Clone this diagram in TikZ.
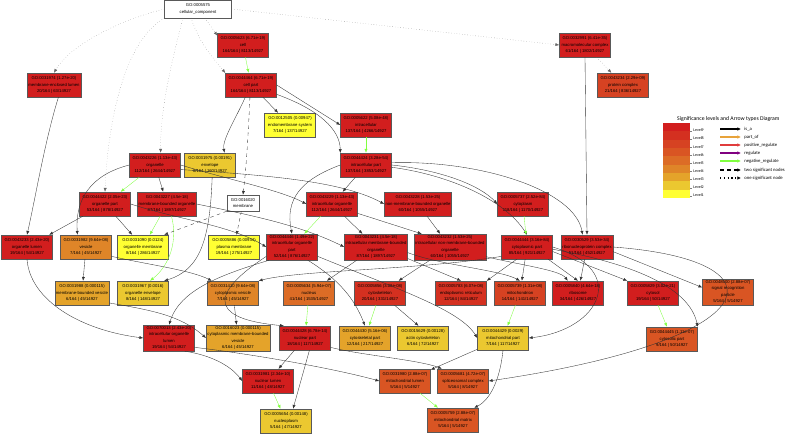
\documentclass[tikz,border=0pt]{standalone}
\usepackage{fontspec}
\setmainfont{Liberation Sans}
\newfontfamily\legfont{Carlito}
\usetikzlibrary{arrows.meta}

\definecolor{lvlnine}{RGB}{210,30,30}
\definecolor{lvleight}{RGB}{212,48,32}
\definecolor{lvlseven}{RGB}{214,66,34}
\definecolor{lvlsix}{RGB}{217,85,35}
\definecolor{lvlfive}{RGB}{220,108,38}
\definecolor{lvlfour}{RGB}{223,133,40}
\definecolor{lvlthree}{RGB}{228,163,42}
\definecolor{lvltwo}{RGB}{235,200,48}
\definecolor{lvlone}{RGB}{255,255,51}
\definecolor{partgreen}{RGB}{128,255,64}
\definecolor{partorange}{RGB}{232,163,58}
\definecolor{posred}{RGB}{224,60,60}
\definecolor{regpurple}{RGB}{128,0,128}

\tikzset{
  goterm/.style={draw=black!65, line width=0.35pt, fill=#1, align=center,
    font=\fontsize{3.6}{5.6}\selectfont, inner sep=1pt,
    minimum width=1.53cm, minimum height=0.72cm},
  isa/.style={-{Latex[length=3.3pt,width=2.6pt]}, draw=black!80, line width=0.3pt},
  partof/.style={isa, draw=partgreen, -{Latex[length=3.3pt,width=2.6pt,color=partgreen]}},
  dsig/.style={isa, dashed},
  osig/.style={isa, draw=black!60, dotted},
  legarrow/.style={line width=1.2pt, -{Latex[length=3.2pt,width=3.2pt]}},
}

\begin{document}
\begin{tikzpicture}[x=0.03cm, y=-0.03cm]
\useasboundingbox (0,0) rectangle (789,434);

% root
\node[goterm=white, minimum width=2.01cm, minimum height=0.54cm] (cc) at (198,9)
  {GO:0005575\\cellular\_component};

% level 1-2
\node[goterm=lvlnine] (mel) at (54,85) {GO:0031974 (1.27e-20)\\membrane-enclosed lumen\\20/164 | 63/14927};
\node[goterm=lvlnine] (cell) at (243,45) {GO:0005623 (6.71e-19)\\cell\\164/164 | 8113/14927};
\node[goterm=lvlnine] (cellpart) at (251,85) {GO:0044464 (6.71e-19)\\cell part\\164/164 | 8113/14927};
\node[goterm=lvlnine] (macro) at (585,45) {GO:0032991 (6.41e-35)\\macromolecular complex\\61/164 | 1802/14927};
\node[goterm=lvlseven] (protcomplex) at (623,85) {GO:0043234 (2.29e-09)\\protein complex\\21/164 | 836/14927};
\node[goterm=lvlone] (endomem) at (290,125) {GO:0012505 (0.00947)\\endomembrane system\\7/164 | 137/14927};
\node[goterm=lvlnine] (intracell) at (366,125) {GO:0005622 (5.08e-48)\\intracellular\\137/164 | 4266/14927};

% organelles
\node[goterm=lvlnine] (organelle) at (155,165) {GO:0043226 (1.13e-43)\\organelle\\112/164 | 2644/14927};
\node[goterm=lvltwo] (envelope) at (210,165) {GO:0031975 (0.00191)\\envelope\\8/164 | 160/14927};
\node[goterm=lvlnine] (intrapart) at (366,165) {GO:0044424 (3.28e-54)\\intracellular part\\137/164 | 3853/14927};
\node[goterm=lvlnine] (orgpart) at (105,204) {GO:0044422 (2.05e-23)\\organelle part\\53/164 | 878/14927};
\node[goterm=lvlnine] (mbo) at (167,204) {GO:0043227 (4.5e-18)\\membrane-bounded organelle\\87/164 | 1897/14927};
\node[goterm=white, minimum width=0.96cm, minimum height=0.48cm] (membrane) at (243,203) {GO:0016020\\membrane};
\node[goterm=lvlnine] (intraorg) at (332,204) {GO:0043229 (1.13e-43)\\intracellular organelle\\112/164 | 2644/14927};
\node[goterm=lvlnine] (nmbo) at (418,204) {GO:0043228 (1.53e-25)\\non-membrane-bounded organelle\\60/164 | 1055/14927};
\node[goterm=lvlnine] (cytoplasm) at (523,204) {GO:0005737 (2.52e-84)\\cytoplasm\\118/164 | 1170/14927};

\node[goterm=lvlnine] (orglumen) at (27,247) {GO:0043233 (2.43e-20)\\organelle lumen\\19/164 | 54/14927};
\node[goterm=lvlfour] (vesicle) at (86,247) {GO:0031982 (9.64e-08)\\vesicle\\7/164 | 45/14927};
\node[goterm=lvlone] (orgmem) at (143,247) {GO:0031090 (0.0124)\\organelle membrane\\8/164 | 286/14927};
\node[goterm=lvlone] (plasmamem) at (234,247) {GO:0005886 (0.00934)\\plasma membrane\\19/164 | 275/14927};
\node[goterm=lvlnine] (intraorgpart) at (292,247) {GO:0044446 (1.49e-22)\\intracellular organelle\\part\\52/164 | 876/14927};
\node[goterm=lvlnine] (intrambo) at (376,247) {GO:0043231 (4.5e-18)\\intracellular membrane-bounded\\organelle\\87/164 | 1897/14927};
\node[goterm=lvlnine] (intranmbo) at (450,247) {GO:0043232 (1.53e-25)\\intracellular non-membrane-bounded\\organelle\\60/164 | 1055/14927};
\node[goterm=lvlnine] (cytopart) at (527,247) {GO:0044444 (3.16e-84)\\cytoplasmic part\\85/164 | 921/14927};
\node[goterm=lvlnine] (ribonuc) at (587,247) {GO:0030529 (3.53e-34)\\ribonucleoprotein complex\\51/164 | 452/14927};

% lower levels
\node[goterm=lvlthree] (mbvesicle) at (82,293) {GO:0031988 (0.000115)\\membrane-bounded vesicle\\6/164 | 45/14927};
\node[goterm=lvltwo] (orgenv) at (143,293) {GO:0031967 (0.0016)\\organelle envelope\\8/164 | 148/14927};
\node[goterm=lvlfour] (cytovesicle) at (233,293) {GO:0031410 (9.64e-08)\\cytoplasmic vesicle\\7/164 | 45/14927};
\node[goterm=lvlfive] (nucleus) at (309,293) {GO:0005634 (5.94e-07)\\nucleus\\41/164 | 1535/14927};
\node[goterm=lvleight] (cytoskel) at (380,293) {GO:0005856 (3.08e-08)\\cytoskeleton\\20/164 | 331/14927};
\node[goterm=lvleight] (er) at (461,293) {GO:0005783 (6.07e-08)\\endoplasmic reticulum\\12/164 | 84/14927};
\node[goterm=lvlseven] (mito) at (520,293) {GO:0005739 (1.31e-08)\\mitochondrion\\14/164 | 141/14927};
\node[goterm=lvlnine] (ribosome) at (578,293) {GO:0005840 (4.64e-18)\\ribosome\\34/164 | 426/14927};
\node[goterm=lvlnine] (cytosol) at (653,293) {GO:0005829 (3.02e-21)\\cytosol\\19/164 | 50/14927};
\node[goterm=lvlsix] (srp) at (728,292) {GO:0048500 (2.88e-07)\\signal recognition\\particle\\5/164 | 5/14927};

\node[goterm=lvlnine] (intraorglumen) at (169,338) {GO:0070013 (2.43e-20)\\intracellular organelle\\lumen\\19/164 | 54/14927};
\node[goterm=lvlthree] (cytombvesicle) at (238,338) {GO:0016023 (0.000115)\\cytoplasmic membrane-bounded\\vesicle\\6/164 | 45/14927};
\node[goterm=lvlnine] (nuclearpart) at (305,338) {GO:0044428 (6.78e-14)\\nuclear part\\18/164 | 117/14927};
\node[goterm=lvlthree] (cytoskelpart) at (365,338) {GO:0044430 (5.16e-06)\\cytoskeletal part\\12/164 | 217/14927};
\node[goterm=lvltwo] (actin) at (423,338) {GO:0015629 (0.00128)\\actin cytoskeleton\\6/164 | 72/14927};
\node[goterm=lvltwo] (mitopart) at (503,338) {GO:0044429 (0.0029)\\mitochondrial part\\7/164 | 117/14927};
\node[goterm=lvlsix] (cytosolpart) at (672,339) {GO:0044445 (1.11e-07)\\cytosolic part\\9/164 | 50/14927};

\node[goterm=lvlnine] (nuclumen) at (268,381) {GO:0031981 (2.34e-10)\\nuclear lumen\\11/164 | 48/14927};
\node[goterm=lvlsix] (mitolumen) at (405,381) {GO:0031980 (2.88e-07)\\mitochondrial lumen\\5/164 | 5/14927};
\node[goterm=lvlsix] (splice) at (463,381) {GO:0005681 (4.72e-07)\\spliceosomal complex\\5/164 | 8/14927};
\node[goterm=lvltwo] (nucleoplasm) at (286,421) {GO:0005654 (0.00148)\\nucleoplasm\\5/164 | 47/14927};
\node[goterm=lvlsix] (mitomatrix) at (453,420) {GO:0005759 (2.88e-07)\\mitochondrial matrix\\5/164 | 5/14927};

% edges from the root
\draw[osig] (cc.west) .. controls (120,20) and (70,45) .. (mel.north);
\draw[osig] (cc.south west) .. controls (125,40) and (108,120) .. (orgpart.north);
\draw[osig] (183,18) .. controls (172,60) and (160,110) .. (organelle.65);
\draw[osig] (191,18) .. controls (200,45) and (215,60) .. (cellpart.155);
\draw[osig] (205,18) -- (cell.160);
\draw[osig] (cc.east) -- (macro.west);

% upper edges
\draw[partof] (cell) -- (cellpart);
\draw[isa] (cellpart) -- (endomem);
\draw[isa] (cellpart.east) -- (intracell.west);
\draw[isa] (cellpart.-20) .. controls (320,110) and (340,130) .. (intrapart.155);
\draw[isa] (cellpart.-115) .. controls (235,120) and (222,140) .. (envelope.40);
\draw[dsig] (cellpart.-95) .. controls (248,140) and (246,170) .. (membrane.north);
\draw[osig] (macro) -- (protcomplex);
\draw[isa] (macro.south) -- (ribonuc.north);
\draw[isa] (mel.-70) .. controls (45,140) and (35,200) .. (orglumen.north);
\draw[partof] (intracell) -- (intrapart);

% organelle edges
\draw[partof] (organelle) -- (orgpart);
\draw[isa] (organelle) -- (mbo);
\draw[isa] (organelle.west) .. controls (90,175) and (75,200) .. (vesicle.125);
\draw[isa] (organelle.east) .. controls (230,180) and (280,190) .. (intraorg.west);
\draw[isa] (organelle.-10) .. controls (260,175) and (340,180) .. (nmbo.west);
\draw[isa] (intrapart) -- (intraorg);
\draw[isa] (intrapart.east) .. controls (440,170) and (480,185) .. (cytoplasm.west);
\draw[isa] (intrapart.-5) .. controls (450,175) and (505,200) .. (cytopart.north);
\draw[isa] (intrapart.5) .. controls (480,160) and (575,190) .. (ribonuc.110);
\draw[isa] (intrapart.west) .. controls (300,180) and (285,200) .. (intraorgpart.north);

\draw[isa] (orgpart) -- (orglumen);
\draw[isa] (orgpart) -- (orgmem);
\draw[isa] (orgpart.east) .. controls (180,220) and (230,225) .. (intraorgpart.west);
\draw[partof] (mbo) -- (orgmem);
\draw[partof] (mbo.-70) .. controls (178,240) and (170,265) .. (orgenv.60);
\draw[isa] (mbo.east) .. controls (250,215) and (300,225) .. (intrambo.west);
\draw[dsig] (membrane) -- (plasmamem);
\draw[dsig] (membrane.south west) -- (orgmem.30);
\draw[partof] (intraorg) -- (intraorgpart);
\draw[isa] (intraorg) -- (intrambo);
\draw[isa] (intraorg.-20) -- (intranmbo.155);
\draw[isa] (nmbo) -- (intranmbo);
\draw[partof] (cytoplasm) -- (cytopart);

% lower edges
\draw[isa] (vesicle) -- (mbvesicle);
\draw[isa] (vesicle.-20) .. controls (150,265) and (190,270) .. (cytovesicle.150);
\draw[isa] (envelope.-80) .. controls (210,240) and (200,270) .. (orgenv.30);
\draw[isa] (orglumen.-90) .. controls (30,300) and (80,330) .. (intraorglumen.west);
\draw[isa] (intraorgpart.-150) .. controls (220,275) and (180,290) .. (intraorglumen.north);
\draw[isa] (intraorgpart.-160) .. controls (200,300) and (220,320) .. (nuclearpart.150);
\draw[isa] (intraorgpart.-40) .. controls (340,280) and (355,300) .. (cytoskelpart.north);
\draw[isa] (intraorgpart.-20) .. controls (400,290) and (460,310) .. (mitopart.west);
\draw[isa] (intrambo) -- (nucleus);
\draw[isa] (intrambo.-20) -- (er.north);
\draw[isa] (intrambo.-10) .. controls (440,265) and (500,270) .. (mito.north);
\draw[isa] (intranmbo) -- (cytoskel);
\draw[isa] (intranmbo.-15) .. controls (520,265) and (560,270) .. (ribosome.130);
\draw[isa] (cytopart.-160) .. controls (420,270) and (300,270) .. (cytovesicle.north east);
\draw[isa] (cytopart.-130) -- (er.north east);
\draw[isa] (cytopart) -- (mito);
\draw[isa] (cytopart.-30) -- (ribosome.north);
\draw[isa] (cytopart.-10) -- (cytosol.north west);
\draw[isa] (cytopart.-5) .. controls (640,265) and (690,290) .. (cytosolpart.north east);
\draw[isa] (cytopart.0) .. controls (630,270) and (600,330) .. (mitopart.east);
\draw[isa] (ribonuc) -- (ribosome);
\draw[isa] (ribonuc.-10) -- (srp.170);
\draw[isa] (ribonuc.east) .. controls (790,260) and (770,340) .. (splice.east);

\draw[isa] (mbvesicle.-20) .. controls (150,310) and (180,315) .. (cytombvesicle.west);
\draw[isa] (cytovesicle) -- (cytombvesicle);
\draw[partof] (nucleus) -- (nuclearpart);
\draw[partof] (cytoskel) -- (cytoskelpart);
\draw[isa] (cytoskel.-40) -- (actin.110);
\draw[partof] (mito) -- (mitopart);
\draw[partof] (cytosol) -- (cytosolpart);
\draw[isa] (intraorglumen.-40) .. controls (210,355) and (230,365) .. (nuclumen.west);
\draw[isa] (intraorglumen.-20) .. controls (260,355) and (340,370) .. (mitolumen.west);
\draw[isa] (nuclearpart) -- (nuclumen);
\draw[isa] (nuclearpart.-70) -- (nucleoplasm.60);
\draw[isa] (nuclearpart.-20) .. controls (360,355) and (420,360) .. (splice.150);
\draw[isa] (mitopart) -- (mitolumen);
\draw[isa] (mitopart.-90) .. controls (500,380) and (490,400) .. (mitomatrix.30);
\draw[partof] (nuclumen) -- (nucleoplasm);
\draw[partof] (mitolumen) -- (mitomatrix);

% legend
\node[font=\legfont\fontsize{4.9}{6}\selectfont, anchor=west, inner sep=0pt] (legtitle) at (677,119)
  {Significance levels and Arrow types Diagram};
\foreach \l/\c [count=\i from 0] in {9/lvlnine,8/lvleight,7/lvlseven,6/lvlsix,5/lvlfive,
    4/lvlfour,3/lvlthree,2/lvltwo,1/lvlone} {
  \fill[\c] (663,{123+\i*8.33}) rectangle (690,{123+(\i+1)*8.33});
  \draw[black!50, line width=0.2pt] (690,{131+\i*8.1}) -- (692,{131+\i*8.1});
  \node[font=\legfont\fontsize{3.4}{4}\selectfont, anchor=west, inner sep=1pt]
    (lev\l) at (692,{130.5+\i*8.1}) {Level\l};
}
\foreach \y/\s/\t in {129/black/is\_a, 137/partorange/part\_of, 145/posred/positive\_regulate,
    153/regpurple/regulate, 161/partgreen/negative\_regulate} {
  \draw[legarrow, \s] (720,\y) -- (741,\y);
  \node[font=\legfont\fontsize{4}{5}\selectfont, anchor=west, inner sep=1pt] at (743,\y) {\t};
}
\draw[legarrow, dashed] (720,170) -- (741,170);
\node[font=\legfont\fontsize{4}{5}\selectfont, anchor=west, inner sep=1pt] (legtwo) at (743,170) {two significant nodes};
\draw[legarrow, dotted] (720,178) -- (741,178);
\node[font=\legfont\fontsize{4}{5}\selectfont, anchor=west, inner sep=1pt] (legone) at (743,178) {one significant node};
\end{tikzpicture}
\end{document}
